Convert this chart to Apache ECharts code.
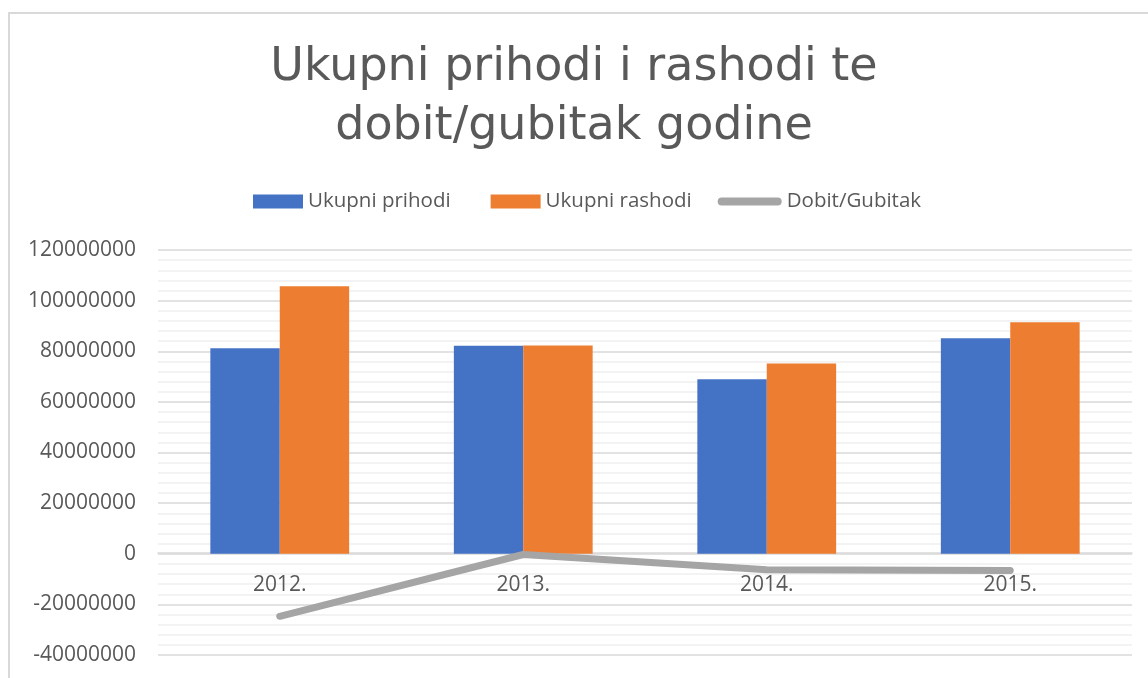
<!DOCTYPE html>
<html>
<head>
<meta charset="utf-8">
<script src="https://cdn.jsdelivr.net/npm/echarts@6/dist/echarts.min.js"></script>
<style>
  html, body { margin: 0; padding: 0; background: #fff; }
  #chart { width: 1148px; height: 678px; }
</style>
</head>
<body>
<div id="chart"></div>
<script>
  // kategorije (godine)
  const years = ['2012.', '2013.', '2014.', '2015.']
  // vrijednosti serija
  const prihodi = [81200000, 82200000, 68900000, 85100000]
  const rashodi = [105700000, 82300000, 75200000, 91500000]
  const dobit = [-24700000, -300000, -6300000, -6600000]

  const textColor = '#595959'
  // ikone legende (pravokutnik desno poravnat, zaobljena linija)
  const rectIcon = 'path://M0,0 M40,0 L90,0 L90,14 L40,14 Z'
  const lineIcon = 'path://M0,0 M90,14 M30,3 L86,3 A4,4 0 0 1 86,11 L30,11 A4,4 0 0 1 30,3 Z'

  const chart = echarts.init(document.getElementById('chart'))

  chart.setOption({
    animation: false,
    textStyle: { fontFamily: 'Open Sans' },
    graphic: [
      {
        type: 'rect',
        shape: { x: 9, y: 13, width: 1200, height: 700 },
        style: { fill: 'none', stroke: '#d9d9d9', lineWidth: 2 },
        silent: true
      }
    ],
    title: {
      text: 'Ukupni prihodi i rashodi te\ndobit/gubitak godine',
      left: 'center',
      top: 34,
      textStyle: {
        fontFamily: 'DejaVu Sans',
        fontSize: 46,
        fontWeight: 'normal',
        color: textColor,
        lineHeight: 59
      }
    },
    legend: {
      top: 186,
      left: 208,
      itemWidth: 90,
      itemHeight: 14,
      itemGap: 0,
      textStyle: { fontSize: 20.5, color: textColor, fontFamily: 'Open Sans' },
      data: [
        { name: 'Ukupni prihodi', icon: rectIcon },
        { name: 'Ukupni rashodi', icon: rectIcon },
        { name: 'Dobit/Gubitak', icon: lineIcon, itemStyle: { color: '#a5a5a5' } }
      ]
    },
    grid: { left: 158, right: 16, top: 250, bottom: 23, outerBoundsMode: 'none' },
    xAxis: {
      type: 'category',
      data: years,
      position: 'bottom',
      offset: -102,
      axisLine: { onZero: false, lineStyle: { color: '#d9d9d9', width: 1.5 } },
      axisTick: { show: false },
      axisLabel: { fontSize: 21, color: textColor, margin: 22 }
    },
    yAxis: {
      type: 'value',
      min: -40000000,
      max: 120000000,
      interval: 20000000,
      axisLine: { show: false },
      axisTick: { show: false },
      axisLabel: { fontSize: 21, color: textColor, margin: 22, formatter: (v) => String(v) },
      splitLine: { lineStyle: { color: '#d9d9d9', width: 1.5 } },
      minorTick: { show: false, splitNumber: 5 },
      minorSplitLine: { show: true, lineStyle: { color: '#f0f0f0', width: 1.5 } }
    },
    series: [
      {
        name: 'Ukupni prihodi',
        type: 'bar',
        data: prihodi,
        barGap: 0,
        barCategoryGap: '43%',
        itemStyle: { color: '#4472c4' }
      },
      {
        name: 'Ukupni rashodi',
        type: 'bar',
        data: rashodi,
        itemStyle: { color: '#ed7d31' }
      },
      {
        name: 'Dobit/Gubitak',
        type: 'line',
        data: dobit,
        showSymbol: false,
        symbol: 'none',
        lineStyle: { color: '#a5a5a5', width: 7, cap: 'round', join: 'round' },
        itemStyle: { color: '#a5a5a5' },
        z: 5
      }
    ]
  })
</script>
</body>
</html>
